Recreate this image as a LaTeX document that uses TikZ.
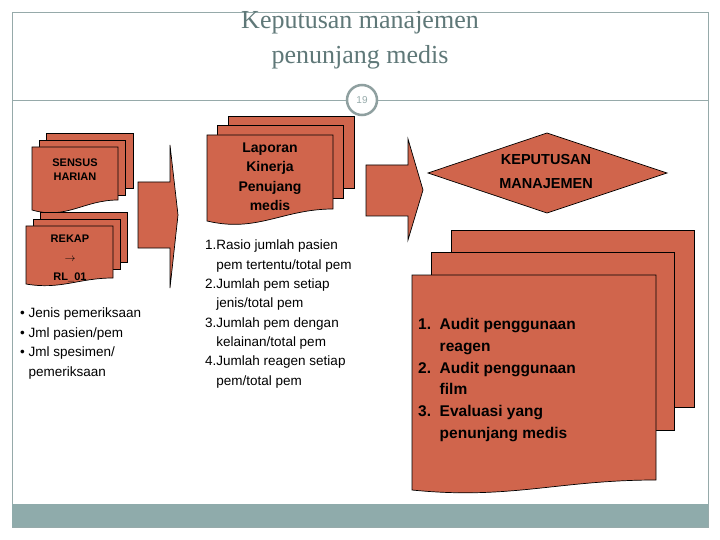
\documentclass[tikz,border=0pt]{standalone}
\usepackage{fontspec}
\setmainfont{Liberation Serif}
\setsansfont{Liberation Sans}
\definecolor{brick}{RGB}{208,101,76}
\definecolor{frame}{RGB}{150,170,170}
\definecolor{bar}{RGB}{143,171,171}
\definecolor{ttl}{RGB}{95,120,120}
\tikzset{pg/.style={fill=brick,draw=black,line width=0.7pt},
 lbl/.style={font=\sffamily\bfseries,align=center,inner sep=0pt},
 lst/.style={font=\sffamily,align=left,anchor=north west,inner sep=0pt}}
\newcommand{\mydoc}[5]{% x y w h d
 \path[pg] (#1,#2) -- ({#1+#3},#2) -- ({#1+#3},{#2+#4-#5}) .. controls ({#1+0.6*#3},{#2+#4-#5}) and ({#1+0.4*#3},{#2+#4+#5}) .. (#1,{#2+#4}) -- cycle;}
\newcommand{\mypg}[4]{\path[pg] (#1,#2) rectangle ({#1+#3},{#2+#4});}
\begin{document}
\begin{tikzpicture}[x=1pt,y=-1pt]
\useasboundingbox (0,0) rectangle (720,540);
\fill[white] (0,0) rectangle (720,540);
\draw[frame,line width=0.8pt] (12,12) rectangle (708,527);
\fill[bar] (12,504) rectangle (708,527);
\draw[frame,line width=0.8pt] (12,100) -- (708,100);
\node[circle,draw=ttl!70,line width=2.5pt,fill=white,minimum size=30pt,inner sep=0pt,font=\sffamily\fontsize{10}{10}\selectfont,text=frame] (pn) at (362,100) {19};
\node[font=\fontsize{26}{35}\selectfont,text=ttl,align=center] (t) at (360,40) {Keputusan manajemen\\penunjang medis};
% sensus stack
\mypg{46}{133}{87}{55}
\mypg{39}{140}{86}{55}
\mydoc{32}{147}{86}{63}{10}
\node[lbl,font=\sffamily\bfseries\fontsize{11}{14}\selectfont] (sensus) at (75,170) {SENSUS\\HARIAN};
% rekap stack
\mypg{40}{212}{87}{50}
\mypg{33}{219}{87}{50}
\mydoc{26}{226}{87}{58}{6}
\node[lbl,font=\sffamily\bfseries\fontsize{11}{19}\selectfont] (rekap) at (70,258) {REKAP\\$\rightarrow$\\RL\_01};
\node[lst,font=\sffamily\fontsize{13.5}{19.5}\selectfont] (l1) at (20,308) {• Jenis pemeriksaan\\• Jml pasien/pem\\• Jml spesimen/\\\phantom{• }pemeriksaan};
% arrow 1
\path[pg] (138,182) -- (170,182) -- (170,145) -- (178,215) -- (170,288) -- (170,248) -- (138,248) -- cycle;
% laporan stack
\mypg{228}{116}{126}{72}
\mypg{217}{125}{126}{73}
\mydoc{207}{135}{126}{86}{12}
\node[lbl,font=\sffamily\bfseries\fontsize{14}{19.5}\selectfont] (lap) at (270,177) {Laporan\\Kinerja\\Penujang\\medis};
\node[lst,font=\sffamily\fontsize{13.5}{19.3}\selectfont] (l2) at (205,240) {1.Rasio jumlah pasien\\\phantom{1.}pem tertentu/total pem\\2.Jumlah pem setiap\\\phantom{1.}jenis/total pem\\3.Jumlah pem dengan\\\phantom{1.}kelainan/total pem\\4.Jumlah reagen setiap\\\phantom{1.}pem/total pem};
% arrow 2
\path[pg] (366,165) -- (408,165) -- (408,139) -- (423,190) -- (408,240) -- (408,216) -- (366,216) -- cycle;
% diamond
\path[pg] (428,173) -- (547,133) -- (667,173) -- (547,213) -- cycle;
\node[lbl,font=\sffamily\bfseries\fontsize{14.5}{24}\selectfont] (kep) at (546,172) {KEPUTUSAN\\MANAJEMEN};
% big stack
\mypg{451}{230}{243}{177}
\mypg{431}{252}{243}{178}
\mydoc{412}{275}{244}{215}{10}
\node[lst,font=\sffamily\bfseries\fontsize{15.5}{21.8}\selectfont] (l3) at (418,318) {1.\ \ Audit penggunaan\\\phantom{1.\ \ }reagen\\2.\ \ Audit penggunaan\\\phantom{1.\ \ }film\\3.\ \ Evaluasi yang\\\phantom{1.\ \ }penunjang medis};
\end{tikzpicture}
\end{document}
